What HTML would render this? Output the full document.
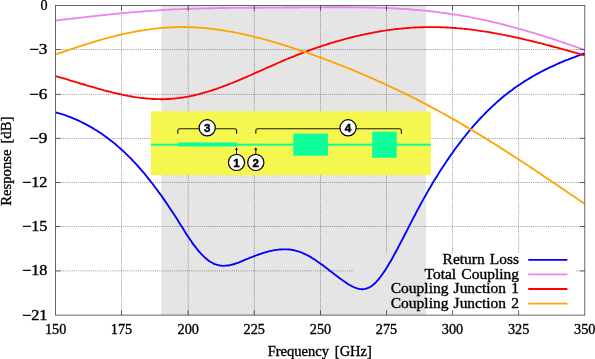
<!DOCTYPE html><html><head><meta charset="utf-8"><title>Response vs Frequency</title>
<style>html,body{margin:0;padding:0;background:#fff;overflow:hidden}svg{display:block}text{font-family:"Liberation Serif",serif;font-size:14.4px;fill:#000;stroke:#000;stroke-width:0.35px;word-spacing:1.2px}.n{font-family:"Liberation Sans",sans-serif;font-weight:bold;font-size:11.6px;text-anchor:middle;stroke:#000;stroke-width:0.45px}</style></head><body>
<svg width="595" height="359" viewBox="0 0 595 359">
<rect width="595" height="359" fill="#fff"/>
<rect x="161.4" y="5.6" width="264.6" height="309.5" fill="#e5e5e5"/>
<g stroke="#505050" stroke-width="0.7" stroke-dasharray="0.75,1.13" fill="none">
<path d="M121.5,5.6 V315.1"/>
<path d="M188.2,5.6 V315.1"/>
<path d="M254.3,5.6 V315.1"/>
<path d="M320.5,5.6 V315.1"/>
<path d="M386.5,5.6 V253.0"/>
<path d="M452.5,5.6 V253.0"/>
<path d="M518.6,5.6 V253.0"/>
<path d="M55.6,49.5 H584.8"/>
<path d="M55.6,94.4 H584.8"/>
<path d="M55.6,138.4 H584.8"/>
<path d="M55.6,182.5 H584.8"/>
<path d="M55.6,226.5 H584.8"/>
<path d="M55.6,270.9 H353.0"/>
<path d="M576,270.9 H584.8"/>
</g>
<path d="M55.6,112.3 L57.4,112.8 L59.1,113.3 L60.9,113.9 L62.7,114.4 L64.4,115.0 L66.2,115.6 L68.0,116.3 L69.8,116.9 L71.5,117.6 L73.3,118.4 L75.1,119.1 L76.8,119.9 L78.6,120.7 L80.4,121.5 L82.1,122.4 L83.9,123.3 L85.7,124.2 L87.4,125.1 L89.2,126.1 L91.0,127.1 L92.8,128.1 L94.5,129.2 L96.3,130.3 L98.1,131.4 L99.8,132.6 L101.6,133.8 L103.4,135.0 L105.1,136.3 L106.9,137.6 L108.7,138.9 L110.4,140.2 L112.2,141.6 L114.0,143.1 L115.8,144.5 L117.5,146.1 L119.3,147.6 L121.1,149.2 L122.8,150.8 L124.6,152.4 L126.4,154.1 L128.1,155.9 L129.9,157.6 L131.7,159.4 L133.4,161.3 L135.2,163.2 L137.0,165.1 L138.8,167.1 L140.5,169.1 L142.3,171.1 L144.1,173.2 L145.8,175.4 L147.6,177.6 L149.4,179.8 L151.1,182.0 L152.9,184.3 L154.7,186.7 L156.4,189.0 L158.2,191.4 L160.0,193.9 L161.8,196.3 L163.5,198.9 L165.3,201.4 L167.1,204.0 L168.8,206.6 L170.6,209.2 L172.4,211.9 L174.1,214.6 L175.9,217.3 L177.7,220.1 L179.4,222.9 L181.2,225.7 L183.0,228.6 L184.8,231.4 L186.5,234.2 L188.3,236.9 L190.1,239.6 L191.8,242.1 L193.6,244.6 L195.4,246.9 L197.1,249.2 L198.9,251.3 L200.7,253.3 L202.4,255.1 L204.2,256.9 L206.0,258.5 L207.8,259.9 L209.5,261.2 L211.3,262.3 L213.1,263.3 L214.8,264.1 L216.6,264.7 L218.4,265.2 L220.1,265.5 L221.9,265.7 L223.7,265.8 L225.4,265.7 L227.2,265.5 L229.0,265.3 L230.8,264.9 L232.5,264.5 L234.3,264.0 L236.1,263.4 L237.8,262.8 L239.6,262.1 L241.4,261.4 L243.1,260.7 L244.9,259.9 L246.7,259.2 L248.4,258.5 L250.2,257.7 L252.0,257.0 L253.8,256.3 L255.5,255.7 L257.3,255.0 L259.1,254.4 L260.8,253.8 L262.6,253.2 L264.4,252.6 L266.1,252.1 L267.9,251.6 L269.7,251.2 L271.4,250.8 L273.2,250.4 L275.0,250.1 L276.8,249.8 L278.5,249.6 L280.3,249.5 L282.1,249.4 L283.8,249.3 L285.6,249.3 L287.4,249.4 L289.1,249.5 L290.9,249.7 L292.7,250.0 L294.4,250.4 L296.2,250.8 L298.0,251.3 L299.8,251.9 L301.5,252.5 L303.3,253.3 L305.1,254.1 L306.8,255.0 L308.6,255.9 L310.4,256.9 L312.1,258.0 L313.9,259.1 L315.7,260.3 L317.4,261.5 L319.2,262.7 L321.0,264.0 L322.8,265.3 L324.5,266.6 L326.3,268.0 L328.1,269.3 L329.8,270.7 L331.6,272.1 L333.4,273.4 L335.1,274.8 L336.9,276.1 L338.7,277.5 L340.4,278.8 L342.2,280.1 L344.0,281.3 L345.8,282.5 L347.5,283.7 L349.3,284.8 L351.1,285.8 L352.8,286.7 L354.6,287.5 L356.4,288.2 L358.1,288.7 L359.9,289.1 L361.7,289.2 L363.4,289.2 L365.2,288.9 L367.0,288.4 L368.8,287.7 L370.5,286.7 L372.3,285.5 L374.1,284.0 L375.8,282.3 L377.6,280.4 L379.4,278.3 L381.1,276.0 L382.9,273.5 L384.7,270.9 L386.4,268.2 L388.2,265.3 L390.0,262.3 L391.8,259.2 L393.5,256.1 L395.3,252.8 L397.1,249.5 L398.8,246.2 L400.6,242.8 L402.4,239.4 L404.1,236.0 L405.9,232.5 L407.7,229.1 L409.4,225.6 L411.2,222.2 L413.0,218.7 L414.8,215.3 L416.5,211.9 L418.3,208.6 L420.1,205.3 L421.8,202.1 L423.6,198.9 L425.4,195.7 L427.1,192.6 L428.9,189.5 L430.7,186.5 L432.4,183.5 L434.2,180.6 L436.0,177.7 L437.8,174.9 L439.5,172.0 L441.3,169.3 L443.1,166.5 L444.8,163.9 L446.6,161.2 L448.4,158.6 L450.1,156.1 L451.9,153.5 L453.7,151.1 L455.4,148.6 L457.2,146.2 L459.0,143.9 L460.8,141.5 L462.5,139.2 L464.3,137.0 L466.1,134.8 L467.8,132.6 L469.6,130.5 L471.4,128.4 L473.1,126.3 L474.9,124.3 L476.7,122.3 L478.4,120.4 L480.2,118.5 L482.0,116.6 L483.8,114.8 L485.5,113.0 L487.3,111.2 L489.1,109.5 L490.8,107.8 L492.6,106.1 L494.4,104.5 L496.1,102.9 L497.9,101.3 L499.7,99.8 L501.4,98.3 L503.2,96.8 L505.0,95.3 L506.8,93.9 L508.5,92.6 L510.3,91.2 L512.1,89.9 L513.8,88.6 L515.6,87.3 L517.4,86.1 L519.1,84.9 L520.9,83.7 L522.7,82.5 L524.4,81.4 L526.2,80.3 L528.0,79.2 L529.8,78.1 L531.5,77.1 L533.3,76.0 L535.1,75.0 L536.8,74.1 L538.6,73.1 L540.4,72.2 L542.1,71.2 L543.9,70.3 L545.7,69.4 L547.4,68.6 L549.2,67.7 L551.0,66.9 L552.8,66.1 L554.5,65.3 L556.3,64.5 L558.1,63.7 L559.8,62.9 L561.6,62.2 L563.4,61.4 L565.1,60.7 L566.9,60.0 L568.7,59.3 L570.4,58.6 L572.2,57.9 L574.0,57.3 L575.8,56.6 L577.5,55.9 L579.3,55.3 L581.1,54.7 L582.8,54.0 L584.6,53.4" fill="none" stroke="#0000ff" stroke-width="1.85" stroke-linejoin="round"/>
<path d="M55.6,20.5 L57.4,20.3 L59.1,20.1 L60.9,19.9 L62.7,19.7 L64.4,19.5 L66.2,19.3 L68.0,19.1 L69.8,18.9 L71.5,18.7 L73.3,18.5 L75.1,18.3 L76.8,18.1 L78.6,17.9 L80.4,17.6 L82.1,17.5 L83.9,17.3 L85.7,17.1 L87.4,16.9 L89.2,16.7 L91.0,16.5 L92.8,16.3 L94.5,16.1 L96.3,15.9 L98.1,15.7 L99.8,15.5 L101.6,15.3 L103.4,15.1 L105.1,14.9 L106.9,14.8 L108.7,14.6 L110.4,14.4 L112.2,14.2 L114.0,14.0 L115.8,13.9 L117.5,13.7 L119.3,13.5 L121.1,13.4 L122.8,13.2 L124.6,13.0 L126.4,12.9 L128.1,12.7 L129.9,12.5 L131.7,12.4 L133.4,12.2 L135.2,12.1 L137.0,11.9 L138.8,11.8 L140.5,11.6 L142.3,11.5 L144.1,11.4 L145.8,11.2 L147.6,11.1 L149.4,10.9 L151.1,10.8 L152.9,10.7 L154.7,10.6 L156.4,10.5 L158.2,10.3 L160.0,10.2 L161.8,10.1 L163.5,10.0 L165.3,9.9 L167.1,9.8 L168.8,9.7 L170.6,9.6 L172.4,9.5 L174.1,9.4 L175.9,9.4 L177.7,9.3 L179.4,9.2 L181.2,9.1 L183.0,9.1 L184.8,9.0 L186.5,8.9 L188.3,8.8 L190.1,8.8 L191.8,8.7 L193.6,8.7 L195.4,8.6 L197.1,8.6 L198.9,8.5 L200.7,8.5 L202.4,8.4 L204.2,8.4 L206.0,8.3 L207.8,8.3 L209.5,8.2 L211.3,8.2 L213.1,8.2 L214.8,8.1 L216.6,8.1 L218.4,8.1 L220.1,8.0 L221.9,8.0 L223.7,8.0 L225.4,8.0 L227.2,7.9 L229.0,7.9 L230.8,7.9 L232.5,7.9 L234.3,7.9 L236.1,7.8 L237.8,7.8 L239.6,7.8 L241.4,7.8 L243.1,7.8 L244.9,7.8 L246.7,7.8 L248.4,7.7 L250.2,7.7 L252.0,7.7 L253.8,7.7 L255.5,7.7 L257.3,7.7 L259.1,7.7 L260.8,7.7 L262.6,7.7 L264.4,7.7 L266.1,7.6 L267.9,7.6 L269.7,7.6 L271.4,7.6 L273.2,7.6 L275.0,7.6 L276.8,7.6 L278.5,7.6 L280.3,7.6 L282.1,7.6 L283.8,7.6 L285.6,7.5 L287.4,7.5 L289.1,7.5 L290.9,7.5 L292.7,7.5 L294.4,7.5 L296.2,7.5 L298.0,7.5 L299.8,7.4 L301.5,7.4 L303.3,7.4 L305.1,7.4 L306.8,7.4 L308.6,7.4 L310.4,7.4 L312.1,7.3 L313.9,7.3 L315.7,7.3 L317.4,7.3 L319.2,7.3 L321.0,7.3 L322.8,7.3 L324.5,7.3 L326.3,7.2 L328.1,7.2 L329.8,7.2 L331.6,7.2 L333.4,7.2 L335.1,7.2 L336.9,7.2 L338.7,7.2 L340.4,7.2 L342.2,7.2 L344.0,7.2 L345.8,7.2 L347.5,7.2 L349.3,7.2 L351.1,7.3 L352.8,7.3 L354.6,7.3 L356.4,7.3 L358.1,7.3 L359.9,7.4 L361.7,7.4 L363.4,7.4 L365.2,7.4 L367.0,7.5 L368.8,7.5 L370.5,7.6 L372.3,7.6 L374.1,7.6 L375.8,7.7 L377.6,7.7 L379.4,7.8 L381.1,7.9 L382.9,7.9 L384.7,8.0 L386.4,8.1 L388.2,8.1 L390.0,8.2 L391.8,8.3 L393.5,8.4 L395.3,8.5 L397.1,8.6 L398.8,8.7 L400.6,8.8 L402.4,8.9 L404.1,9.0 L405.9,9.1 L407.7,9.2 L409.4,9.4 L411.2,9.5 L413.0,9.6 L414.8,9.8 L416.5,9.9 L418.3,10.1 L420.1,10.2 L421.8,10.4 L423.6,10.6 L425.4,10.7 L427.1,10.9 L428.9,11.1 L430.7,11.3 L432.4,11.5 L434.2,11.7 L436.0,11.9 L437.8,12.1 L439.5,12.3 L441.3,12.6 L443.1,12.8 L444.8,13.0 L446.6,13.3 L448.4,13.5 L450.1,13.8 L451.9,14.1 L453.7,14.3 L455.4,14.6 L457.2,14.9 L459.0,15.2 L460.8,15.5 L462.5,15.8 L464.3,16.1 L466.1,16.4 L467.8,16.7 L469.6,17.1 L471.4,17.4 L473.1,17.8 L474.9,18.1 L476.7,18.5 L478.4,18.8 L480.2,19.2 L482.0,19.6 L483.8,20.0 L485.5,20.4 L487.3,20.7 L489.1,21.1 L490.8,21.5 L492.6,22.0 L494.4,22.4 L496.1,22.8 L497.9,23.2 L499.7,23.7 L501.4,24.1 L503.2,24.5 L505.0,25.0 L506.8,25.4 L508.5,25.9 L510.3,26.4 L512.1,26.8 L513.8,27.3 L515.6,27.8 L517.4,28.3 L519.1,28.8 L520.9,29.3 L522.7,29.8 L524.4,30.3 L526.2,30.8 L528.0,31.3 L529.8,31.8 L531.5,32.4 L533.3,32.9 L535.1,33.4 L536.8,34.0 L538.6,34.5 L540.4,35.0 L542.1,35.6 L543.9,36.2 L545.7,36.7 L547.4,37.3 L549.2,37.8 L551.0,38.4 L552.8,39.0 L554.5,39.6 L556.3,40.2 L558.1,40.8 L559.8,41.3 L561.6,41.9 L563.4,42.5 L565.1,43.1 L566.9,43.8 L568.7,44.4 L570.4,45.0 L572.2,45.6 L574.0,46.2 L575.8,46.8 L577.5,47.5 L579.3,48.1 L581.1,48.7 L582.8,49.4 L584.6,50.0" fill="none" stroke="#ee82ee" stroke-width="1.85" stroke-linejoin="round"/>
<path d="M55.6,76.1 L57.4,76.6 L59.1,77.1 L60.9,77.7 L62.7,78.2 L64.4,78.7 L66.2,79.2 L68.0,79.7 L69.8,80.3 L71.5,80.8 L73.3,81.3 L75.1,81.9 L76.8,82.4 L78.6,82.9 L80.4,83.5 L82.1,84.0 L83.9,84.5 L85.7,85.0 L87.4,85.6 L89.2,86.1 L91.0,86.6 L92.8,87.1 L94.5,87.6 L96.3,88.1 L98.1,88.6 L99.8,89.1 L101.6,89.6 L103.4,90.1 L105.1,90.6 L106.9,91.0 L108.7,91.5 L110.4,91.9 L112.2,92.4 L114.0,92.8 L115.8,93.2 L117.5,93.6 L119.3,94.0 L121.1,94.4 L122.8,94.8 L124.6,95.2 L126.4,95.5 L128.1,95.9 L129.9,96.2 L131.7,96.5 L133.4,96.8 L135.2,97.1 L137.0,97.3 L138.8,97.6 L140.5,97.8 L142.3,98.0 L144.1,98.2 L145.8,98.4 L147.6,98.6 L149.4,98.7 L151.1,98.8 L152.9,99.0 L154.7,99.0 L156.4,99.1 L158.2,99.1 L160.0,99.2 L161.8,99.2 L163.5,99.2 L165.3,99.1 L167.1,99.0 L168.8,99.0 L170.6,98.9 L172.4,98.7 L174.1,98.6 L175.9,98.4 L177.7,98.2 L179.4,98.0 L181.2,97.7 L183.0,97.5 L184.8,97.2 L186.5,96.9 L188.3,96.6 L190.1,96.2 L191.8,95.8 L193.6,95.5 L195.4,95.0 L197.1,94.6 L198.9,94.2 L200.7,93.7 L202.4,93.2 L204.2,92.7 L206.0,92.2 L207.8,91.7 L209.5,91.1 L211.3,90.6 L213.1,90.0 L214.8,89.4 L216.6,88.8 L218.4,88.1 L220.1,87.5 L221.9,86.9 L223.7,86.2 L225.4,85.5 L227.2,84.9 L229.0,84.2 L230.8,83.5 L232.5,82.8 L234.3,82.0 L236.1,81.3 L237.8,80.6 L239.6,79.8 L241.4,79.1 L243.1,78.3 L244.9,77.6 L246.7,76.8 L248.4,76.0 L250.2,75.3 L252.0,74.5 L253.8,73.7 L255.5,72.9 L257.3,72.1 L259.1,71.3 L260.8,70.6 L262.6,69.8 L264.4,69.0 L266.1,68.2 L267.9,67.4 L269.7,66.6 L271.4,65.8 L273.2,65.1 L275.0,64.3 L276.8,63.5 L278.5,62.7 L280.3,62.0 L282.1,61.2 L283.8,60.4 L285.6,59.7 L287.4,59.0 L289.1,58.2 L290.9,57.5 L292.7,56.8 L294.4,56.1 L296.2,55.3 L298.0,54.6 L299.8,54.0 L301.5,53.3 L303.3,52.6 L305.1,51.9 L306.8,51.3 L308.6,50.6 L310.4,50.0 L312.1,49.3 L313.9,48.7 L315.7,48.1 L317.4,47.5 L319.2,46.9 L321.0,46.3 L322.8,45.7 L324.5,45.1 L326.3,44.6 L328.1,44.0 L329.8,43.4 L331.6,42.9 L333.4,42.4 L335.1,41.8 L336.9,41.3 L338.7,40.8 L340.4,40.3 L342.2,39.8 L344.0,39.3 L345.8,38.8 L347.5,38.4 L349.3,37.9 L351.1,37.5 L352.8,37.0 L354.6,36.6 L356.4,36.2 L358.1,35.8 L359.9,35.4 L361.7,35.0 L363.4,34.6 L365.2,34.2 L367.0,33.8 L368.8,33.5 L370.5,33.1 L372.3,32.8 L374.1,32.4 L375.8,32.1 L377.6,31.8 L379.4,31.5 L381.1,31.2 L382.9,30.9 L384.7,30.7 L386.4,30.4 L388.2,30.1 L390.0,29.9 L391.8,29.7 L393.5,29.4 L395.3,29.2 L397.1,29.0 L398.8,28.8 L400.6,28.6 L402.4,28.5 L404.1,28.3 L405.9,28.1 L407.7,28.0 L409.4,27.9 L411.2,27.7 L413.0,27.6 L414.8,27.5 L416.5,27.4 L418.3,27.4 L420.1,27.3 L421.8,27.2 L423.6,27.2 L425.4,27.1 L427.1,27.1 L428.9,27.1 L430.7,27.1 L432.4,27.1 L434.2,27.1 L436.0,27.1 L437.8,27.1 L439.5,27.2 L441.3,27.2 L443.1,27.3 L444.8,27.4 L446.6,27.5 L448.4,27.6 L450.1,27.7 L451.9,27.8 L453.7,27.9 L455.4,28.0 L457.2,28.2 L459.0,28.3 L460.8,28.5 L462.5,28.7 L464.3,28.8 L466.1,29.0 L467.8,29.2 L469.6,29.4 L471.4,29.6 L473.1,29.9 L474.9,30.1 L476.7,30.3 L478.4,30.6 L480.2,30.8 L482.0,31.1 L483.8,31.4 L485.5,31.6 L487.3,31.9 L489.1,32.2 L490.8,32.5 L492.6,32.8 L494.4,33.1 L496.1,33.4 L497.9,33.8 L499.7,34.1 L501.4,34.4 L503.2,34.8 L505.0,35.1 L506.8,35.5 L508.5,35.8 L510.3,36.2 L512.1,36.6 L513.8,37.0 L515.6,37.3 L517.4,37.7 L519.1,38.1 L520.9,38.5 L522.7,38.9 L524.4,39.3 L526.2,39.8 L528.0,40.2 L529.8,40.6 L531.5,41.0 L533.3,41.5 L535.1,41.9 L536.8,42.3 L538.6,42.8 L540.4,43.2 L542.1,43.7 L543.9,44.1 L545.7,44.6 L547.4,45.1 L549.2,45.5 L551.0,46.0 L552.8,46.5 L554.5,47.0 L556.3,47.4 L558.1,47.9 L559.8,48.4 L561.6,48.9 L563.4,49.4 L565.1,49.9 L566.9,50.4 L568.7,50.9 L570.4,51.4 L572.2,51.9 L574.0,52.4 L575.8,52.9 L577.5,53.4 L579.3,53.9 L581.1,54.4 L582.8,54.9 L584.6,55.4" fill="none" stroke="#ff0000" stroke-width="1.85" stroke-linejoin="round"/>
<path d="M55.6,54.4 L57.4,53.8 L59.1,53.2 L60.9,52.6 L62.7,52.0 L64.4,51.4 L66.2,50.8 L68.0,50.2 L69.8,49.6 L71.5,49.0 L73.3,48.4 L75.1,47.8 L76.8,47.2 L78.6,46.7 L80.4,46.1 L82.1,45.5 L83.9,45.0 L85.7,44.4 L87.4,43.9 L89.2,43.3 L91.0,42.8 L92.8,42.2 L94.5,41.7 L96.3,41.2 L98.1,40.7 L99.8,40.1 L101.6,39.6 L103.4,39.1 L105.1,38.6 L106.9,38.2 L108.7,37.7 L110.4,37.2 L112.2,36.8 L114.0,36.3 L115.8,35.9 L117.5,35.4 L119.3,35.0 L121.1,34.6 L122.8,34.2 L124.6,33.8 L126.4,33.4 L128.1,33.0 L129.9,32.6 L131.7,32.3 L133.4,31.9 L135.2,31.6 L137.0,31.3 L138.8,31.0 L140.5,30.7 L142.3,30.4 L144.1,30.1 L145.8,29.8 L147.6,29.6 L149.4,29.3 L151.1,29.1 L152.9,28.8 L154.7,28.6 L156.4,28.4 L158.2,28.3 L160.0,28.1 L161.8,27.9 L163.5,27.8 L165.3,27.6 L167.1,27.5 L168.8,27.4 L170.6,27.3 L172.4,27.2 L174.1,27.2 L175.9,27.1 L177.7,27.1 L179.4,27.0 L181.2,27.0 L183.0,27.0 L184.8,27.0 L186.5,27.1 L188.3,27.1 L190.1,27.2 L191.8,27.2 L193.6,27.3 L195.4,27.4 L197.1,27.5 L198.9,27.6 L200.7,27.8 L202.4,27.9 L204.2,28.1 L206.0,28.2 L207.8,28.4 L209.5,28.6 L211.3,28.8 L213.1,29.0 L214.8,29.2 L216.6,29.5 L218.4,29.7 L220.1,30.0 L221.9,30.2 L223.7,30.5 L225.4,30.8 L227.2,31.1 L229.0,31.4 L230.8,31.7 L232.5,32.0 L234.3,32.4 L236.1,32.7 L237.8,33.1 L239.6,33.4 L241.4,33.8 L243.1,34.2 L244.9,34.6 L246.7,35.0 L248.4,35.4 L250.2,35.8 L252.0,36.2 L253.8,36.6 L255.5,37.1 L257.3,37.5 L259.1,38.0 L260.8,38.4 L262.6,38.9 L264.4,39.4 L266.1,39.9 L267.9,40.4 L269.7,40.9 L271.4,41.4 L273.2,41.9 L275.0,42.4 L276.8,42.9 L278.5,43.5 L280.3,44.0 L282.1,44.5 L283.8,45.1 L285.6,45.6 L287.4,46.2 L289.1,46.8 L290.9,47.3 L292.7,47.9 L294.4,48.5 L296.2,49.1 L298.0,49.7 L299.8,50.3 L301.5,50.9 L303.3,51.5 L305.1,52.1 L306.8,52.7 L308.6,53.3 L310.4,53.9 L312.1,54.6 L313.9,55.2 L315.7,55.8 L317.4,56.5 L319.2,57.1 L321.0,57.7 L322.8,58.4 L324.5,59.1 L326.3,59.7 L328.1,60.4 L329.8,61.0 L331.6,61.7 L333.4,62.4 L335.1,63.1 L336.9,63.8 L338.7,64.4 L340.4,65.1 L342.2,65.8 L344.0,66.5 L345.8,67.2 L347.5,68.0 L349.3,68.7 L351.1,69.4 L352.8,70.1 L354.6,70.9 L356.4,71.6 L358.1,72.3 L359.9,73.1 L361.7,73.8 L363.4,74.6 L365.2,75.3 L367.0,76.1 L368.8,76.9 L370.5,77.6 L372.3,78.4 L374.1,79.2 L375.8,80.0 L377.6,80.8 L379.4,81.6 L381.1,82.4 L382.9,83.2 L384.7,84.0 L386.4,84.8 L388.2,85.6 L390.0,86.4 L391.8,87.3 L393.5,88.1 L395.3,88.9 L397.1,89.8 L398.8,90.6 L400.6,91.5 L402.4,92.3 L404.1,93.2 L405.9,94.1 L407.7,94.9 L409.4,95.8 L411.2,96.7 L413.0,97.6 L414.8,98.5 L416.5,99.4 L418.3,100.3 L420.1,101.2 L421.8,102.1 L423.6,103.0 L425.4,103.9 L427.1,104.9 L428.9,105.8 L430.7,106.7 L432.4,107.7 L434.2,108.6 L436.0,109.6 L437.8,110.5 L439.5,111.5 L441.3,112.5 L443.1,113.5 L444.8,114.4 L446.6,115.4 L448.4,116.4 L450.1,117.4 L451.9,118.4 L453.7,119.4 L455.4,120.4 L457.2,121.4 L459.0,122.5 L460.8,123.5 L462.5,124.5 L464.3,125.6 L466.1,126.6 L467.8,127.6 L469.6,128.7 L471.4,129.8 L473.1,130.8 L474.9,131.9 L476.7,132.9 L478.4,134.0 L480.2,135.1 L482.0,136.2 L483.8,137.3 L485.5,138.4 L487.3,139.5 L489.1,140.6 L490.8,141.7 L492.6,142.8 L494.4,143.9 L496.1,145.0 L497.9,146.1 L499.7,147.2 L501.4,148.4 L503.2,149.5 L505.0,150.6 L506.8,151.7 L508.5,152.9 L510.3,154.0 L512.1,155.2 L513.8,156.3 L515.6,157.5 L517.4,158.6 L519.1,159.8 L520.9,160.9 L522.7,162.1 L524.4,163.3 L526.2,164.4 L528.0,165.6 L529.8,166.8 L531.5,167.9 L533.3,169.1 L535.1,170.3 L536.8,171.5 L538.6,172.6 L540.4,173.8 L542.1,175.0 L543.9,176.2 L545.7,177.4 L547.4,178.6 L549.2,179.8 L551.0,181.0 L552.8,182.2 L554.5,183.4 L556.3,184.5 L558.1,185.7 L559.8,186.9 L561.6,188.1 L563.4,189.3 L565.1,190.6 L566.9,191.8 L568.7,193.0 L570.4,194.2 L572.2,195.4 L574.0,196.6 L575.8,197.8 L577.5,199.0 L579.3,200.2 L581.1,201.4 L582.8,202.6 L584.6,203.8" fill="none" stroke="#ffa500" stroke-width="1.85" stroke-linejoin="round"/>
<rect x="151" y="111.3" width="279.8" height="63.9" fill="#f5f64e"/>
<g fill="#0cff9b"><rect x="151" y="143.7" width="279.8" height="2"/><path d="M178.1,142.4 H235.9 L237.7,143.7 V145.7 L235.9,146.6 H178.1z"/><rect x="293.4" y="133.6" width="34.5" height="22.1"/><rect x="372.2" y="131.7" width="24.5" height="26.1"/></g>
<g stroke="#1a1a10" stroke-width="1.1" fill="none">
<path d="M177.8,133.8 v-3.1 q0,-2 2,-2 H234.6 q2,0 2,2 v3.1"/>
<path d="M255.8,133.8 v-3.1 q0,-2 2,-2 H399.4 q2,0 2,2 v3.1"/>
<path d="M236.5,154.5 V148.5 M255.8,154.5 V148.5" stroke-width="1"/>
</g>
<path d="M236.5,147.3 l-1.4,2.6 h2.8z M255.8,147.3 l-1.4,2.6 h2.8z" fill="#000"/>
<circle cx="207.2" cy="127.8" r="8.1" fill="#fff" stroke="#000" stroke-width="1.2"/>
<text class="n" x="207.2" y="132.0">3</text>
<circle cx="348.1" cy="127.8" r="8.1" fill="#fff" stroke="#000" stroke-width="1.2"/>
<text class="n" x="348.1" y="132.0">4</text>
<circle cx="236.5" cy="162.4" r="8.1" fill="#fff" stroke="#000" stroke-width="1.2"/>
<text class="n" x="236.5" y="166.6">1</text>
<circle cx="255.8" cy="162.4" r="8.1" fill="#fff" stroke="#000" stroke-width="1.2"/>
<text class="n" x="255.8" y="166.6">2</text>
<g stroke="#282828" stroke-width="0.7" fill="none">
<path d="M121.5,315.1 v-5 M121.5,5.6 v5"/>
<path d="M188.2,315.1 v-5 M188.2,5.6 v5"/>
<path d="M254.3,315.1 v-5 M254.3,5.6 v5"/>
<path d="M320.5,315.1 v-5 M320.5,5.6 v5"/>
<path d="M386.5,315.1 v-5 M386.5,5.6 v5"/>
<path d="M452.5,315.1 v-5 M452.5,5.6 v5"/>
<path d="M518.6,315.1 v-5 M518.6,5.6 v5"/>
<path d="M55.6,49.5 h5 M584.8,49.5 h-5"/>
<path d="M55.6,94.4 h5 M584.8,94.4 h-5"/>
<path d="M55.6,138.4 h5 M584.8,138.4 h-5"/>
<path d="M55.6,182.5 h5 M584.8,182.5 h-5"/>
<path d="M55.6,226.5 h5 M584.8,226.5 h-5"/>
<path d="M55.6,270.9 h5 M584.8,270.9 h-5"/>
</g>
<rect x="254.8" y="143.6" width="2.8" height="2.3" fill="#8fcf9a" opacity="0.7"/><rect x="236" y="143.8" width="1.6" height="2" fill="#8fdfa8" opacity="0.6"/>
<rect x="55.6" y="5.6" width="529.2" height="309.5" fill="none" stroke="#383838" stroke-width="0.75"/>
<text x="55.6" y="334" text-anchor="middle" textLength="21.4" lengthAdjust="spacingAndGlyphs">150</text>
<text x="121.5" y="334" text-anchor="middle" textLength="21.4" lengthAdjust="spacingAndGlyphs">175</text>
<text x="188.2" y="334" text-anchor="middle" textLength="21.4" lengthAdjust="spacingAndGlyphs">200</text>
<text x="254.3" y="334" text-anchor="middle" textLength="21.4" lengthAdjust="spacingAndGlyphs">225</text>
<text x="320.5" y="334" text-anchor="middle" textLength="21.4" lengthAdjust="spacingAndGlyphs">250</text>
<text x="386.5" y="334" text-anchor="middle" textLength="21.4" lengthAdjust="spacingAndGlyphs">275</text>
<text x="452.5" y="334" text-anchor="middle" textLength="21.4" lengthAdjust="spacingAndGlyphs">300</text>
<text x="518.6" y="334" text-anchor="middle" textLength="21.4" lengthAdjust="spacingAndGlyphs">325</text>
<text x="584.8" y="334" text-anchor="middle" textLength="21.4" lengthAdjust="spacingAndGlyphs">350</text>
<text x="47.5" y="10.1" text-anchor="end" textLength="7.1" lengthAdjust="spacingAndGlyphs">0</text>
<text x="47.5" y="54.0" text-anchor="end" textLength="18.4" lengthAdjust="spacingAndGlyphs">−3</text>
<text x="47.5" y="98.9" text-anchor="end" textLength="18.4" lengthAdjust="spacingAndGlyphs">−6</text>
<text x="47.5" y="142.9" text-anchor="end" textLength="18.4" lengthAdjust="spacingAndGlyphs">−9</text>
<text x="47.5" y="187.0" text-anchor="end" textLength="25.5" lengthAdjust="spacingAndGlyphs">−12</text>
<text x="47.5" y="231.0" text-anchor="end" textLength="25.5" lengthAdjust="spacingAndGlyphs">−15</text>
<text x="47.5" y="275.4" text-anchor="end" textLength="25.5" lengthAdjust="spacingAndGlyphs">−18</text>
<text x="47.5" y="319.6" text-anchor="end" textLength="25.5" lengthAdjust="spacingAndGlyphs">−21</text>
<text x="319.8" y="355.5" style="word-spacing:2.2px" text-anchor="middle" textLength="104.2" lengthAdjust="spacingAndGlyphs">Frequency [GHz]</text>
<text transform="translate(10.8,161.2) rotate(-90)" style="word-spacing:2.2px" text-anchor="middle" textLength="89.2" lengthAdjust="spacingAndGlyphs">Response [dB]</text>
<text x="519" y="264.0" text-anchor="end" textLength="76.4" lengthAdjust="spacingAndGlyphs">Return Loss</text>
<path d="M528.2,259.9 H567.4" stroke="#0000ff" stroke-width="1.85" fill="none"/>
<text x="519" y="278.5" text-anchor="end" textLength="94.5" lengthAdjust="spacingAndGlyphs">Total Coupling</text>
<path d="M528.2,274.4 H567.4" stroke="#ee82ee" stroke-width="1.85" fill="none"/>
<text x="519" y="293.1" text-anchor="end" textLength="128.2" lengthAdjust="spacingAndGlyphs">Coupling Junction 1</text>
<path d="M528.2,289.0 H567.4" stroke="#ff0000" stroke-width="1.85" fill="none"/>
<text x="519" y="307.7" text-anchor="end" textLength="128.2" lengthAdjust="spacingAndGlyphs">Coupling Junction 2</text>
<path d="M528.2,303.6 H567.4" stroke="#ffa500" stroke-width="1.85" fill="none"/>
</svg></body></html>
